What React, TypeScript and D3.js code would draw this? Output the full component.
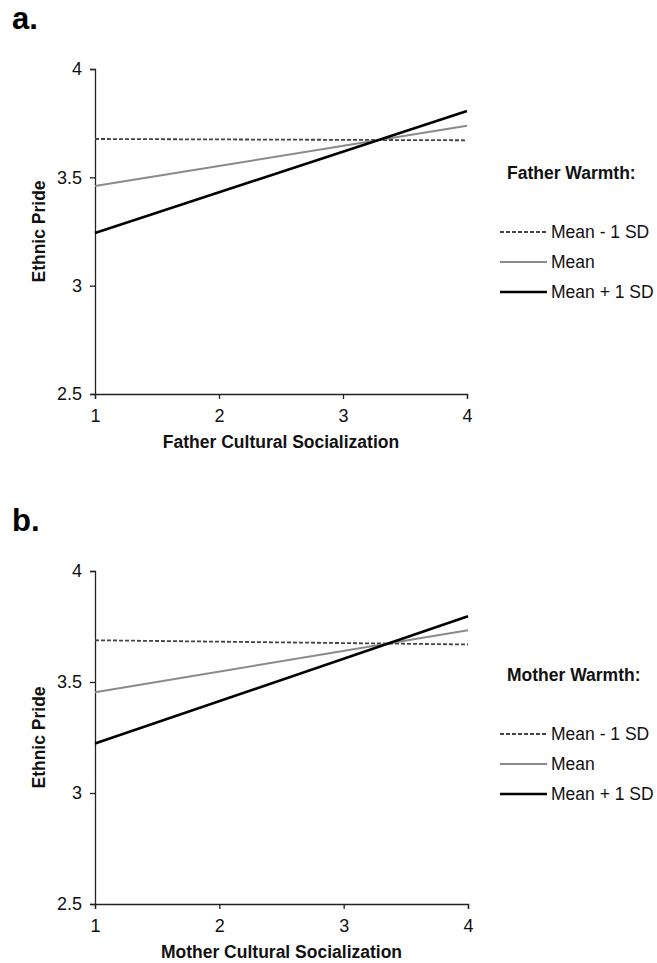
import { useEffect, useRef } from "react";
import * as d3 from "d3";

// values (predicted ethnic pride at socialization = 1 and 4)
const xValues = [1, 4];
const xTicks = [1, 2, 3, 4];
const yTicks = [2.5, 3, 3.5, 4];
const seriesNames = ["Mean - 1 SD", "Mean", "Mean + 1 SD"];

const fatherLow = [3.677, 3.671];
const fatherMean = [3.46, 3.738];
const fatherHigh = [3.243, 3.806];

const motherLow = [3.688, 3.669];
const motherMean = [3.454, 3.733];
const motherHigh = [3.223, 3.796];

const panels = [
  {
    label: "a.",
    xTitle: "Father Cultural Socialization",
    legendTitle: "Father Warmth:",
    series: [fatherLow, fatherMean, fatherHigh],
    top: 69,
    bottom: 394,
    right: 467,
  },
  {
    label: "b.",
    xTitle: "Mother Cultural Socialization",
    legendTitle: "Mother Warmth:",
    series: [motherLow, motherMean, motherHigh],
    top: 571,
    bottom: 904,
    right: 468,
  },
];

const lineStyles = [
  { stroke: "#444", width: 1.8, dash: "4,2" },
  { stroke: "#8a8a8a", width: 2, dash: null },
  { stroke: "#000", width: 2.6, dash: null },
];

const font = "Arial, 'Liberation Sans', sans-serif";

export default function App() {
  const ref = useRef<SVGSVGElement>(null);

  useEffect(() => {
    const svg = d3.select(ref.current);
    svg.selectAll("*").remove();

    panels.forEach((p) => {
      const left = 95;
      const x = d3.scaleLinear().domain([1, 4]).range([left, p.right]);
      const y = d3.scaleLinear().domain([2.5, 4]).range([p.bottom, p.top]);
      const g = svg.append("g");

      // panel letter
      g.append("text")
        .attr("x", 12)
        .attr("y", p.top - 40)
        .attr("font-family", font)
        .attr("font-weight", "bold")
        .attr("font-size", 31)
        .text(p.label);

      const yAxis = g
        .append("g")
        .attr("transform", `translate(${left},0)`)
        .call(
          d3
            .axisLeft(y)
            .tickValues(yTicks)
            .tickSize(5)
            .tickPadding(8)
            .tickFormat((d) => String(d))
        );
      const xAxis = g
        .append("g")
        .attr("transform", `translate(0,${p.bottom})`)
        .call(
          d3
            .axisBottom(x)
            .tickValues(xTicks)
            .tickSize(5)
            .tickPadding(10)
            .tickFormat((d) => String(d))
        );
      [yAxis, xAxis].forEach((ax) => {
        ax.attr("font-size", 18).attr("font-family", font);
        ax.select(".domain").attr("stroke", "#222").attr("stroke-width", 1.3);
        ax.selectAll(".tick line").attr("stroke", "#222").attr("stroke-width", 1.3);
        ax.selectAll(".tick text").attr("fill", "#111");
      });

      g.append("text")
        .attr("x", (left + p.right) / 2)
        .attr("y", p.bottom + 54)
        .attr("text-anchor", "middle")
        .attr("font-family", font)
        .attr("font-weight", "bold")
        .attr("font-size", 17.5)
        .attr("fill", "#111")
        .text(p.xTitle);

      g.append("text")
        .attr(
          "transform",
          `translate(45,${(p.top + p.bottom) / 2}) rotate(-90)`
        )
        .attr("text-anchor", "middle")
        .attr("font-family", font)
        .attr("font-weight", "bold")
        .attr("font-size", 17.5)
        .attr("fill", "#111")
        .text("Ethnic Pride");

      const line = d3
        .line<number>()
        .x((_, i) => x(xValues[i]))
        .y((d) => y(d));

      p.series.forEach((s, i) => {
        const st = lineStyles[i];
        g.append("path")
          .attr("d", line(s))
          .attr("fill", "none")
          .attr("stroke", st.stroke)
          .attr("stroke-width", st.width)
          .attr("stroke-dasharray", st.dash);
      });

      // legend
      const ly = p.top + 104;
      g.append("text")
        .attr("x", 507)
        .attr("y", ly + 6)
        .attr("font-family", font)
        .attr("font-weight", "bold")
        .attr("font-size", 17.5)
        .attr("fill", "#111")
        .text(p.legendTitle);

      seriesNames.forEach((name, i) => {
        const yy = ly + 59 + i * 30;
        const st = lineStyles[i];
        g.append("line")
          .attr("x1", 500)
          .attr("x2", 547)
          .attr("y1", yy)
          .attr("y2", yy)
          .attr("stroke", st.stroke)
          .attr("stroke-width", st.width)
          .attr("stroke-dasharray", st.dash);
        g.append("text")
          .attr("x", 551)
          .attr("y", yy + 6)
          .attr("font-family", font)
          .attr("font-size", 17.5)
          .attr("fill", "#111")
          .text(name);
      });
    });
  }, []);

  return (
    <svg
      ref={ref}
      width={657}
      height={963}
      style={{ position: "absolute", left: 0, top: 0, background: "#fff" }}
    />
  );
}
